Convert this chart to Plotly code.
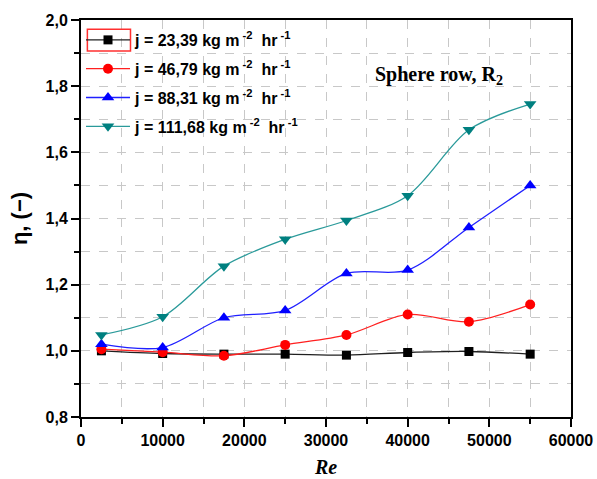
import plotly.graph_objects as go

# Reynolds numbers shared by every series
re_values = [2500, 10000, 17500, 25000, 32500, 40000, 47500, 55000]

# Efficiency ratio eta for each mass flux j
eta_j23 = [1.000, 0.992, 0.990, 0.990, 0.987, 0.995, 0.998, 0.990]
eta_j46 = [1.005, 0.996, 0.985, 1.018, 1.048, 1.110, 1.088, 1.140]
eta_j88 = [1.020, 1.010, 1.100, 1.122, 1.234, 1.244, 1.373, 1.500]
eta_j111 = [1.048, 1.103, 1.256, 1.337, 1.394, 1.469, 1.668, 1.746]

series_names = [
    "j = 23,39 kg m<sup> -2</sup>  hr<sup> -1</sup>",
    "j = 46,79 kg m<sup> -2</sup>  hr<sup> -1</sup>",
    "j = 88,31 kg m<sup> -2</sup>  hr<sup> -1</sup>",
    "j = 111,68 kg m<sup> -2</sup>  hr<sup> -1</sup>",
]

y_tick_vals = [0.8, 1.0, 1.2, 1.4, 1.6, 1.8, 2.0]
y_tick_text = ["0,8", "1,0", "1,2", "1,4", "1,6", "1,8", "2,0"]
x_tick_vals = [0, 10000, 20000, 30000, 40000, 50000, 60000]
x_tick_text = ["0", "10000", "20000", "30000", "40000", "50000", "60000"]

styles = [
    dict(line="#202020", marker="#000000", symbol="square", size=9),
    dict(line="#ff2020", marker="#ff0000", symbol="circle", size=10),
    dict(line="#2020ff", marker="#0000ff", symbol="triangle-up", size=11),
    dict(line="#2a9a9a", marker="#008080", symbol="triangle-down", size=11),
]

fig = go.Figure()
for i, (name, ys, st) in enumerate(zip(series_names,
                                       [eta_j23, eta_j46, eta_j88, eta_j111],
                                       styles)):
    fig.add_trace(go.Scatter(
        x=re_values, y=ys, name=name, mode="lines+markers",
        legendgroup=f"g{i}",
        line=dict(color=st["line"], width=1.3, shape="spline", smoothing=0.9),
        marker=dict(color=st["marker"], symbol=st["symbol"], size=st["size"],
                    line=dict(width=0)),
    ))

tick_font = dict(family="Liberation Sans, Arial", size=16, color="black",
                 weight="bold")

fig.update_layout(
    width=597, height=479,
    margin=dict(l=81, r=26, t=20, b=62),
    paper_bgcolor="white", plot_bgcolor="white",
    showlegend=True,
    legend=dict(
        x=0.0, y=0.9925, xanchor="left", yanchor="top",
        bgcolor="rgba(0,0,0,0)", borderwidth=0,
        font=dict(family="Liberation Sans, Arial", size=16, color="black",
                  weight="bold"),
        itemwidth=44, tracegroupgap=5,
    ),
    xaxis=dict(
        range=[0, 60000], tickvals=x_tick_vals, ticktext=x_tick_text,
        tickfont=tick_font, automargin=False,
        ticks="outside", ticklen=8, tickwidth=2, tickcolor="black",
        showline=True, linewidth=2, linecolor="black", mirror=True,
        showgrid=False, zeroline=False,
        minor=dict(dtick=5000, tick0=0, ticks="outside", ticklen=5,
                   tickwidth=2, tickcolor="black", showgrid=True,
                   gridcolor="#c8c8c8", gridwidth=1, griddash="dash"),
        title=dict(text="<i>Re</i>", standoff=12,
                   font=dict(family="Liberation Serif, Times New Roman",
                             size=20, color="black", weight="bold")),
    ),
    yaxis=dict(
        range=[0.8, 2.0], tickvals=y_tick_vals, ticktext=y_tick_text,
        tickfont=tick_font, automargin=False,
        ticks="outside", ticklen=8, tickwidth=2, tickcolor="black",
        showline=True, linewidth=2, linecolor="black", mirror=True,
        showgrid=False, zeroline=False,
        minor=dict(dtick=0.1, tick0=0.8, ticks="outside", ticklen=5,
                   tickwidth=2, tickcolor="black", showgrid=True,
                   gridcolor="#c8c8c8", gridwidth=1, griddash="dash"),
        title=dict(text="η, (−)", standoff=12,
                   font=dict(family="Liberation Sans, Arial", size=22,
                             color="black", weight="bold")),
    ),
    annotations=[
        dict(text="Sphere row, R<sub>2</sub>", xref="paper", yref="paper",
             x=0.595, y=0.86, xanchor="left", yanchor="middle", showarrow=False,
             font=dict(family="Liberation Serif, Times New Roman", size=20,
                       color="black", weight="bold")),
    ],
    shapes=[
        # highlight frame around the first legend sample
        dict(type="rect", xref="paper", yref="paper",
             x0=0.013, x1=0.101, y0=0.922, y1=0.977,
             line=dict(color="#ff3030", width=1.5)),
    ],
)

fig.write_html("out.html")
